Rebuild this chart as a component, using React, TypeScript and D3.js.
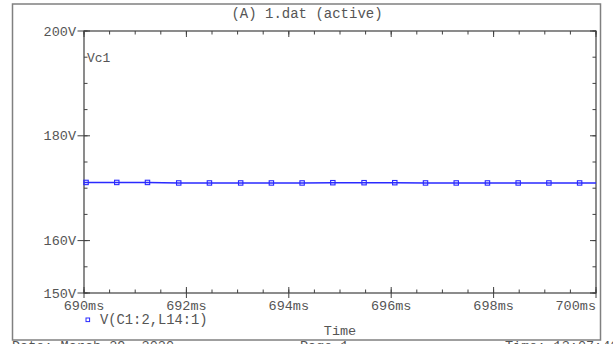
import React from 'react';
import * as d3 from 'd3';

// trace samples (ms, V)
const timeMs = [690.0, 690.04, 690.64, 691.24, 691.85, 692.45, 693.06, 693.66, 694.26, 694.86, 695.47, 696.07, 696.67, 697.27, 697.88, 698.48, 699.08, 699.68, 700.0];
const vc1 = [171.1, 171.1, 171.1, 171.1, 171.0, 171.0, 171.0, 171.0, 171.0, 171.05, 171.05, 171.05, 171.0, 171.0, 171.0, 171.0, 171.0, 171.0, 171.0];

const xMajor = [690, 692, 694, 696, 698, 700];
const xMinor = d3.range(690, 700.01, 0.5);
const yMajor = [200, 180, 160, 150];
const yMinor = d3.range(150, 200.01, 5);

const title = '(A) 1.dat (active)';
const traceLabel = 'Vc1';
const legendLabel = 'V(C1:2,L14:1)';
const xTitle = 'Time';

const W = 613;
const H = 344;
const margin = { top: 31, right: 17, bottom: 51, left: 84 };
const FONT = '"Liberation Mono", "Courier New", monospace';
const AXIS = '#404040';
const TEXT = '#555';
const BLUE = '#2a2aff';

export default function App() {
  const x = d3.scaleLinear().domain([690, 700]).range([margin.left, W - margin.right]);
  const y = d3.scaleLinear().domain([150, 200]).range([H - margin.bottom, margin.top]);
  const [x0, x1] = x.range();
  const [y0, y1] = y.range(); // y0 bottom, y1 top

  const line = d3.line<number>()
    .x((_, i) => x(timeMs[i]))
    .y((d) => y(d));

  const markerIdx = d3.range(1, timeMs.length - 1);

  return (
    <div style={{ position: 'absolute', left: 0, top: 0, width: W, height: H, background: '#fff', overflow: 'hidden' }}>
      <svg width={W} height={H} style={{ display: 'block' }}>
        <rect x={0} y={0} width={W} height={H} fill="#fff" />
        {/* outer frame */}
        <rect x={12.5} y={4} width={588} height={336} fill="none" stroke="#808080" strokeWidth={1.5} />

        <text x={307} y={17.5} textAnchor="middle" fontFamily={FONT} fontSize={14} fill={TEXT}>{title}</text>

        {/* plot box */}
        <rect x={x0} y={y1} width={x1 - x0} height={y0 - y1} fill="none" stroke={AXIS} strokeWidth={1.2} />

        {/* y ticks */}
        {yMinor.map((v) => (
          <g key={'ym' + v}>
            <line x1={x0} x2={x0 + 3.5} y1={y(v)} y2={y(v)} stroke={AXIS} />
            <line x1={x1} x2={x1 - 3.5} y1={y(v)} y2={y(v)} stroke={AXIS} />
          </g>
        ))}
        {yMajor.map((v) => (
          <g key={'yM' + v}>
            <line x1={x0 - 6.5} x2={x0 + 6} y1={y(v)} y2={y(v)} stroke={AXIS} />
            <line x1={x1} x2={x1 - 6} y1={y(v)} y2={y(v)} stroke={AXIS} />
            <text x={x0 - 8} y={y(v) + 4.5} textAnchor="end" fontFamily={FONT} fontSize={13.5} fill={TEXT}>{v + 'V'}</text>
          </g>
        ))}

        {/* x ticks */}
        {xMinor.map((v) => (
          <g key={'xm' + v}>
            <line x1={x(v)} x2={x(v)} y1={y0} y2={y0 - 3.5} stroke={AXIS} />
            <line x1={x(v)} x2={x(v)} y1={y1} y2={y1 + 3.5} stroke={AXIS} />
          </g>
        ))}
        {xMajor.map((v, i) => (
          <g key={'xM' + v}>
            <line x1={x(v)} x2={x(v)} y1={y0 - 6} y2={y0 + 5} stroke={AXIS} />
            <line x1={x(v)} x2={x(v)} y1={y1} y2={y1 + 6} stroke={AXIS} />
            <text x={x(v)} y={y0 + 16.5}
              textAnchor={i === xMajor.length - 1 ? 'end' : 'middle'}
              fontFamily={FONT} fontSize={13.5} fill={TEXT}>{v + 'ms'}</text>
          </g>
        ))}

        {/* trace */}
        <path d={line(vc1) || ''} fill="none" stroke={BLUE} strokeWidth={1.4} />
        {markerIdx.map((i) => (
          <rect key={'mk' + i} x={x(timeMs[i]) - 2.2} y={y(vc1[i]) - 2.2} width={4.4} height={4.4} fill="none" stroke={BLUE} strokeWidth={1.1} />
        ))}

        <text x={x0 + 3} y={62} fontFamily={FONT} fontSize={13} fill={TEXT}>{traceLabel}</text>

        {/* legend */}
        <rect x={86} y={318} width={3.6} height={3.6} fill="none" stroke={BLUE} strokeWidth={1} />
        <text x={100} y={324} fontFamily={FONT} fontSize={13.8} fill={TEXT}>{legendLabel}</text>

        <text x={340} y={335} textAnchor="middle" fontFamily={FONT} fontSize={13.5} fill={TEXT}>{xTitle}</text>

        {/* footer, clipped by the window */}
        <text x={12} y={350} fontFamily={FONT} fontSize={13.5} fill={TEXT}>Date: March 29, 2020</text>
        <text x={300} y={350} fontFamily={FONT} fontSize={13.5} fill={TEXT}>Page 1</text>
        <text x={505} y={350} fontFamily={FONT} fontSize={13.5} fill={TEXT}>Time: 13:07:46</text>
      </svg>
    </div>
  );
}
